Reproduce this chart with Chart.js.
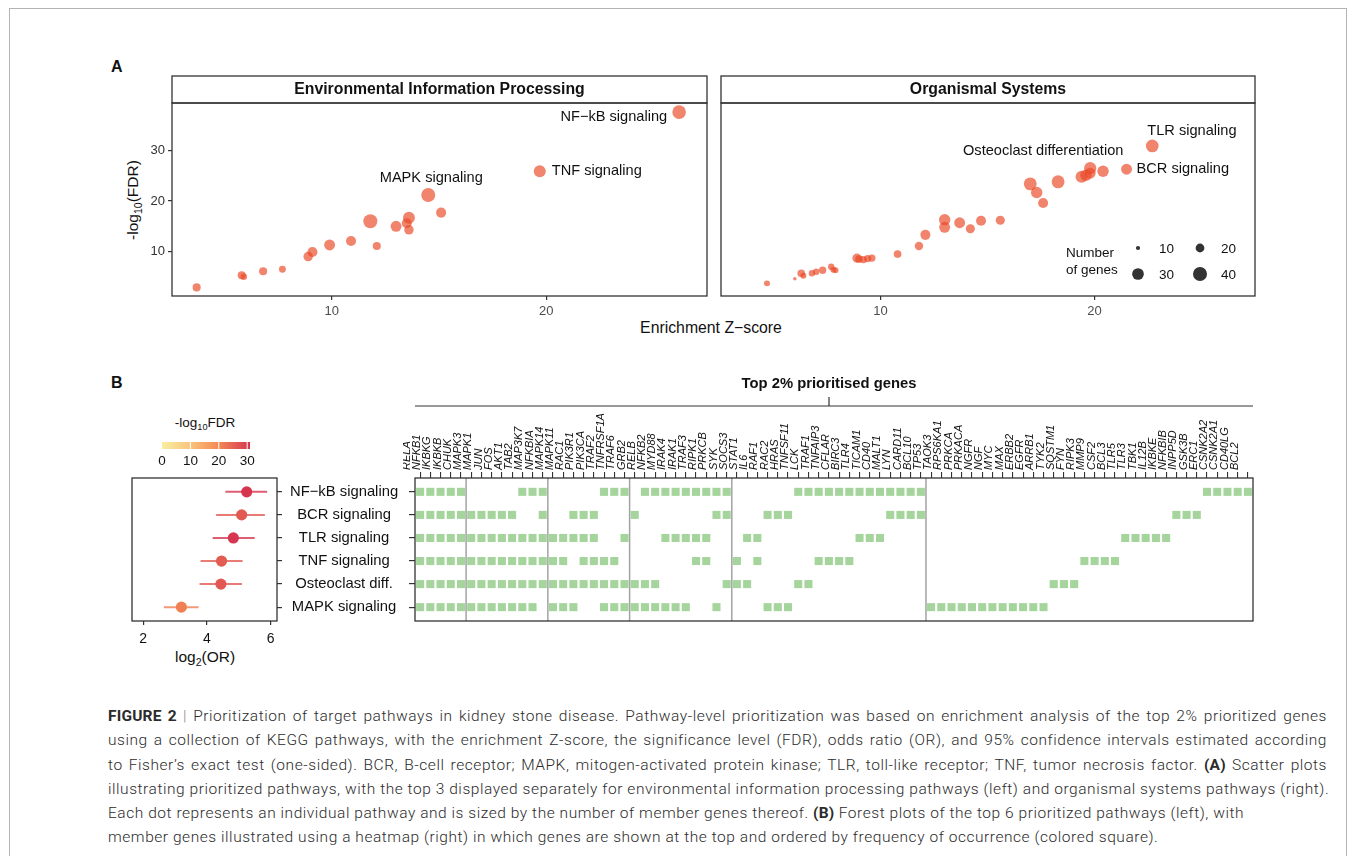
<!DOCTYPE html>
<html>
<head>
<meta charset="utf-8">
<title>Figure 2</title>
<script src="https://cdn.jsdelivr.net/npm/chart.js@4.4.1/dist/chart.umd.min.js"></script>
<style>
  html, body { margin: 0; padding: 0; background: #fff; }
  #page { position: relative; width: 1355px; height: 856px; overflow: hidden; font-family: "Liberation Sans", Arial, sans-serif; color: #111; }
  #frame { position: absolute; left: 9px; top: 8px; width: 1336px; height: 900px; border: 1px solid #b3b3b3; }
  canvas { position: absolute; }
  .lbl { position: absolute; white-space: nowrap; line-height: 1; }
  .tag { font-weight: bold; font-size: 16px; }
  .mid { transform: translate(-50%, -50%); }
  sub { font-size: 68%; vertical-align: -0.35em; line-height: 0; }
  #caption { position: absolute; left: 108px; top: 704px; width: 1219px; font-family: Roboto, "Liberation Sans", sans-serif; font-weight: 300; font-size: 15.5px; letter-spacing: 0.55px; line-height: 24.3px; color: #2b2b2b; }
  #caption div { white-space: nowrap; }
  #caption .just { text-align: justify; text-align-last: justify; }
  #caption b { font-weight: 700; letter-spacing: 0.2px; }
  #caption .sep { color: #888; }
</style>
</head>
<body>
<div id="page">
  <div id="frame"></div>
  <div class="lbl tag" style="left:111px; top:59px;">A</div>
  <div class="lbl tag" style="left:111px; top:375px;">B</div>
  <div class="lbl" style="left:133px; top:200px; font-size:15.5px; transform: translate(-50%,-50%) rotate(-90deg);">-log<sub>10</sub>(FDR)</div>
  <div class="lbl mid" style="left:711px; top:328px; font-size:15.8px;">Enrichment Z−score</div>
  <div class="lbl mid" style="left:205px; top:423px; font-size:13.5px;">-log<sub>10</sub>FDR</div>
  <div class="lbl mid" style="left:205px; top:657px; font-size:15.5px;">log<sub>2</sub>(OR)</div>

  <canvas id="envChart" width="614" height="262" style="left:100px; top:60px; width:614px; height:262px;"></canvas>
  <canvas id="orgChart" width="560" height="262" style="left:712px; top:60px; width:560px; height:262px;"></canvas>
  <canvas id="forestChart" width="315" height="270" style="left:100px; top:400px; width:315px; height:270px;"></canvas>
  <canvas id="heatChart" width="860" height="261" style="left:403px; top:370px; width:860px; height:261px;"></canvas>

  <div id="caption">
    <div class="just"><b>FIGURE 2</b> <span class="sep">|</span> Prioritization of target pathways in kidney stone disease. Pathway-level prioritization was based on enrichment analysis of the top 2% prioritized genes</div>
    <div class="just">using a collection of KEGG pathways, with the enrichment Z-score, the significance level (FDR), odds ratio (OR), and 95% confidence intervals estimated according</div>
    <div class="just">to Fisher’s exact test (one-sided). BCR, B-cell receptor; MAPK, mitogen-activated protein kinase; TLR, toll-like receptor; TNF, tumor necrosis factor. <b>(A)</b> Scatter plots</div>
    <div class="just">illustrating prioritized pathways, with the top 3 displayed separately for environmental information processing pathways (left) and organismal systems pathways (right).</div>
    <div>Each dot represents an individual pathway and is sized by the number of member genes thereof. <b>(B)</b> Forest plots of the top 6 prioritized pathways (left), with</div>
    <div>member genes illustrated using a heatmap (right) in which genes are shown at the top and ordered by frequency of occurrence (colored square).</div>
  </div>
</div>

<script>
// ---------- Panel A: environmental information processing ----------
const envZ = [3.7, 5.8, 5.9, 6.8, 7.7, 8.9, 9.1, 9.9, 10.9, 12.1, 11.8, 13.0, 13.5, 13.6, 13.6, 14.5, 15.1, 19.7, 26.2];
const envFdr = [2.9, 5.3, 5.0, 6.1, 6.5, 9.0, 9.9, 11.3, 12.1, 11.1, 16.0, 15.0, 15.6, 16.7, 14.3, 21.2, 17.7, 25.9, 37.6];
const envGenes = [18, 18, 14, 18, 15, 22, 24, 27, 24, 18, 40, 27, 24, 31, 22, 40, 24, 31, 38];
const envLabelIdx = [15, 17, 18];
const envLabelText = ['MAPK signaling', 'TNF signaling', 'NF−kB signaling'];

// ---------- Panel A: organismal systems ----------
const orgZ = [4.7, 6.0, 6.3, 6.4, 6.8, 7.0, 7.3, 7.7, 7.8, 7.9, 8.9, 9.0, 9.2, 9.4, 9.6, 10.8, 11.8, 12.1, 13.0, 13.0,
              13.7, 14.2, 14.7, 15.6, 17.0, 17.3, 17.6, 18.3, 19.4, 19.6, 19.8, 19.8, 20.4, 21.5, 22.7];
const orgFdr = [3.7, 4.6, 5.7, 5.2, 5.7, 6.0, 6.3, 7.0, 6.4, 6.3, 8.7, 8.5, 8.4, 8.6, 8.7, 9.5, 11.1, 13.3, 16.3, 14.8,
                15.7, 14.5, 16.1, 16.2, 23.4, 21.7, 19.6, 23.8, 24.8, 25.1, 26.5, 25.5, 25.9, 26.3, 30.9];
const orgGenes = [13, 9, 17, 13, 14, 14, 16, 14, 13, 13, 21, 17, 16, 16, 16, 17, 19, 24, 29, 27,
                  27, 21, 24, 21, 35, 29, 24, 35, 32, 29, 32, 27, 29, 27, 34];
const orgLabelIdx = [30, 33, 34];
const orgLabelText = ['Osteoclast differentiation', 'BCR signaling', 'TLR signaling'];

const zTicks = [10, 20];
const fdrTicks = [10, 20, 30];
const sizeLegendValues = [10, 20, 30, 40];

// ---------- Panel B: forest plot ----------
const forestPathways = ['NF−kB signaling', 'BCR signaling', 'TLR signaling', 'TNF signaling', 'Osteoclast diff.', 'MAPK signaling'];
const forestLog2OR = [5.25, 5.09, 4.83, 4.46, 4.44, 3.20];
const forestLow = [4.58, 4.29, 4.18, 3.80, 3.77, 2.65];
const forestHigh = [5.89, 5.82, 5.50, 5.12, 5.10, 3.74];
const forestFdr = [37.6, 26.3, 30.9, 25.9, 26.5, 21.2];
const orTicks = [2, 4, 6];
const colorbarTicks = [0, 10, 20, 30];

// ---------- Panel B: member genes heatmap ----------
const heatGenes = ['RELA', 'NFKB1', 'IKBKG', 'IKBKB', 'CHUK', 'MAPK3', 'MAPK1', 'JUN', 'FOS', 'AKT1', 'TAB2', 'MAP3K7',
  'NFKBIA', 'MAPK14', 'MAPK11', 'RAC1', 'PIK3R1', 'PIK3CA', 'TRAF2', 'TNFRSF1A', 'TRAF6', 'GRB2', 'RELB', 'NFKB2',
  'MYD88', 'IRAK4', 'IRAK1', 'TRAF3', 'RIPK1', 'PRKCB', 'SYK', 'SOCS3', 'STAT1', 'IL6', 'RAF1', 'RAC2', 'HRAS',
  'TNFSF11', 'LCK', 'TRAF1', 'TNFAIP3', 'CFLAR', 'BIRC3', 'TLR4', 'TICAM1', 'CD40', 'MALT1', 'LYN', 'CARD11', 'BCL10',
  'TP53', 'TAOK3', 'RPS6KA1', 'PRKCA', 'PRKACA', 'NGFR', 'NGF', 'MYC', 'MAX', 'ERBB2', 'EGFR', 'ARRB1', 'TYK2',
  'SQSTM1', 'FYN', 'RIPK3', 'MMP9', 'CSF2', 'BCL3', 'TLR5', 'TLR3', 'TBK1', 'IL12B', 'IKBKE', 'NFKBIB', 'INPP5D',
  'GSK3B', 'ERC1', 'CSNK2A2', 'CSNK2A1', 'CD40LG', 'BCL2'];
const heatBreaks = [5, 13, 21, 31, 50];

const nfkbMembers = ['RELA', 'NFKB1', 'IKBKG', 'IKBKB', 'CHUK', 'TAB2', 'MAP3K7', 'NFKBIA', 'TRAF2', 'TNFRSF1A', 'TRAF6',
  'RELB', 'NFKB2', 'MYD88', 'IRAK4', 'IRAK1', 'TRAF3', 'RIPK1', 'PRKCB', 'SYK', 'TNFSF11', 'LCK', 'TRAF1', 'TNFAIP3',
  'CFLAR', 'BIRC3', 'TLR4', 'TICAM1', 'CD40', 'MALT1', 'LYN', 'CARD11', 'BCL10', 'ERC1', 'CSNK2A2', 'CSNK2A1', 'CD40LG', 'BCL2'];
const bcrMembers = ['RELA', 'NFKB1', 'IKBKG', 'IKBKB', 'CHUK', 'MAPK3', 'MAPK1', 'JUN', 'FOS', 'AKT1', 'NFKBIA', 'RAC1',
  'PIK3R1', 'PIK3CA', 'GRB2', 'PRKCB', 'SYK', 'RAF1', 'RAC2', 'HRAS', 'MALT1', 'LYN', 'CARD11', 'BCL10', 'NFKBIB', 'INPP5D', 'GSK3B'];
const tlrMembers = ['RELA', 'NFKB1', 'IKBKG', 'IKBKB', 'CHUK', 'MAPK3', 'MAPK1', 'JUN', 'FOS', 'AKT1', 'TAB2', 'MAP3K7',
  'NFKBIA', 'MAPK14', 'MAPK11', 'RAC1', 'PIK3R1', 'PIK3CA', 'TRAF6', 'MYD88', 'IRAK4', 'IRAK1', 'TRAF3', 'RIPK1', 'STAT1',
  'IL6', 'TLR4', 'TICAM1', 'CD40', 'TLR5', 'TLR3', 'TBK1', 'IL12B', 'IKBKE'];
const tnfMembers = ['RELA', 'NFKB1', 'IKBKG', 'IKBKB', 'CHUK', 'MAPK3', 'MAPK1', 'JUN', 'FOS', 'AKT1', 'TAB2', 'MAP3K7',
  'NFKBIA', 'MAPK14', 'MAPK11', 'PIK3R1', 'PIK3CA', 'TRAF2', 'TNFRSF1A', 'TRAF3', 'RIPK1', 'SOCS3', 'IL6', 'TRAF1',
  'TNFAIP3', 'CFLAR', 'BIRC3', 'RIPK3', 'MMP9', 'CSF2', 'BCL3'];
const osteoMembers = ['RELA', 'NFKB1', 'IKBKG', 'IKBKB', 'CHUK', 'MAPK3', 'MAPK1', 'JUN', 'FOS', 'AKT1', 'TAB2', 'MAP3K7',
  'NFKBIA', 'MAPK14', 'MAPK11', 'RAC1', 'PIK3R1', 'PIK3CA', 'TRAF2', 'TNFRSF1A', 'TRAF6', 'GRB2', 'RELB', 'NFKB2', 'SYK',
  'SOCS3', 'STAT1', 'TNFSF11', 'LCK', 'TYK2', 'SQSTM1', 'FYN'];
const mapkMembers = ['RELA', 'NFKB1', 'IKBKG', 'IKBKB', 'CHUK', 'MAPK3', 'MAPK1', 'JUN', 'FOS', 'AKT1', 'TAB2', 'MAP3K7',
  'MAPK14', 'MAPK11', 'RAC1', 'TRAF2', 'TNFRSF1A', 'TRAF6', 'GRB2', 'RELB', 'NFKB2', 'MYD88', 'IRAK4', 'IRAK1', 'PRKCB',
  'RAF1', 'RAC2', 'HRAS', 'TP53', 'TAOK3', 'RPS6KA1', 'PRKCA', 'PRKACA', 'NGFR', 'NGF', 'MYC', 'MAX', 'ERBB2', 'EGFR', 'ARRB1'];
const heatRows = [nfkbMembers, bcrMembers, tlrMembers, tnfMembers, osteoMembers, mapkMembers];

// ---------- styling ----------
const FONT = '"Liberation Sans", Arial, sans-serif';
const INK = '#333333';
const dotColor = 'rgba(234, 74, 38, 0.68)';
const tileColor = '#a5d59c';
const colorbarMax = 31;
const colorbarColors = ['#f9eea0', '#f8c47b', '#f38955', '#d6354f'];

Chart.defaults.font.family = FONT;
Chart.defaults.color = INK;
Chart.defaults.animation = false;
Chart.defaults.plugins.legend.display = false;
Chart.defaults.plugins.tooltip.enabled = false;

// dot radius from number of genes (area-like scale)
function dotRadius(n) {
  return 7 * Math.sqrt(Math.max(n - 7, 0.6) / 33);
}

function hexToRgb(h) {
  return [parseInt(h.slice(1, 3), 16), parseInt(h.slice(3, 5), 16), parseInt(h.slice(5, 7), 16)];
}

function fdrColor(v, alpha) {
  const t = Math.min(Math.max(v, 0), colorbarMax);
  const stops = colorbarTicks.map((s, i) => i === colorbarTicks.length - 1 ? colorbarMax : s);
  let k = 0;
  while (k < stops.length - 2 && t > stops[k + 1]) k++;
  const f = (t - stops[k]) / (stops[k + 1] - stops[k]);
  const a = hexToRgb(colorbarColors[k]);
  const b = hexToRgb(colorbarColors[k + 1]);
  const c = a.map((x, i) => Math.round(x + (b[i] - x) * f));
  return `rgba(${c[0]}, ${c[1]}, ${c[2]}, ${alpha === undefined ? 1 : alpha})`;
}

function fixedTicks(values) {
  return scale => { scale.ticks = values.map(v => ({ value: v })); };
}

// where each scatter label sits relative to its dot (pixels)
const labelPlacement = {
  'NF−kB signaling': { align: 'right', dx: -12, dy: 5 },
  'TNF signaling': { align: 'left', dx: 12, dy: 0 },
  'MAPK signaling': { align: 'center', dx: 3, dy: -17 },
  'TLR signaling': { align: 'left', dx: -5, dy: -15 },
  'Osteoclast differentiation': { align: 'center', dx: -47, dy: -17 },
  'BCR signaling': { align: 'left', dx: 10, dy: 0 }
};

const panelFrame = {
  id: 'panelFrame',
  afterDraw(chart, args, opts) {
    const { ctx, chartArea } = chart;
    const { left, top, right, bottom } = chartArea;
    ctx.save();
    ctx.strokeStyle = INK;
    ctx.lineWidth = 1.3;
    ctx.strokeRect(left, top - 27, right - left, 27);
    ctx.strokeRect(left, top, right - left, bottom - top);
    ctx.fillStyle = '#111';
    ctx.font = `bold 15.8px ${FONT}`;
    ctx.textAlign = 'center';
    ctx.textBaseline = 'middle';
    ctx.fillText(opts.title, (left + right) / 2, top - 13);

    // pathway labels
    const meta = chart.getDatasetMeta(0);
    ctx.font = `14.6px ${FONT}`;
    opts.labelIdx.forEach((idx, i) => {
      const text = opts.labelText[i];
      const place = labelPlacement[text];
      const el = meta.data[idx];
      ctx.textAlign = place.align;
      ctx.fillText(text, el.x + place.dx, el.y + place.dy);
    });

    // size legend
    if (opts.sizeLegend) {
      ctx.textAlign = 'left';
      ctx.font = `13.5px ${FONT}`;
      ctx.fillText('Number', right - 189, bottom - 43);
      ctx.fillText('of genes', right - 189, bottom - 26);
      const cols = [right - 117, right - 55];
      const rows = [bottom - 48, bottom - 22];
      opts.sizeLegend.forEach((n, i) => {
        const cx = cols[i % 2];
        const cy = rows[Math.floor(i / 2)];
        ctx.fillStyle = '#333';
        ctx.beginPath();
        ctx.arc(cx, cy, dotRadius(n), 0, Math.PI * 2);
        ctx.fill();
        ctx.fillStyle = '#111';
        ctx.fillText(String(n), cx + 21, cy + 1);
      });
    }
    ctx.restore();
  }
};

function scatterConfig(zs, fdrs, genes, showY, padLeft, padRight, opts) {
  return {
    type: 'scatter',
    data: {
      datasets: [{
        data: zs.map((z, i) => ({ x: z, y: fdrs[i] })),
        backgroundColor: dotColor,
        borderWidth: 0,
        pointRadius: genes.map(dotRadius)
      }]
    },
    options: {
      responsive: false,
      devicePixelRatio: 1,
      layout: { padding: { top: 43, left: padLeft, right: padRight, bottom: 0 } },
      scales: {
        x: {
          type: 'linear', min: 2.55, max: 27.5,
          afterBuildTicks: fixedTicks(zTicks),
          afterFit: s => { s.height = 26; },
          border: { display: false },
          grid: { drawOnChartArea: false, tickLength: 4, color: INK, lineWidth: 1.2 },
          ticks: { color: '#4d4d4d', font: { size: 13 }, padding: 4, maxRotation: 0 }
        },
        y: {
          type: 'linear', display: showY, min: 1.2, max: 39.4,
          afterBuildTicks: fixedTicks(fdrTicks),
          afterFit: s => { s.width = showY ? 72 : 0; },
          border: { display: false },
          grid: { drawOnChartArea: false, tickLength: 4, color: INK, lineWidth: 1.2 },
          ticks: { color: '#333', font: { size: 13 }, padding: 3 }
        }
      },
      plugins: { panelFrame: opts }
    },
    plugins: [panelFrame]
  };
}

new Chart(document.getElementById('envChart'), scatterConfig(envZ, envFdr, envGenes, true, 0, 5, {
  title: 'Environmental Information Processing', labelIdx: envLabelIdx, labelText: envLabelText
}));

new Chart(document.getElementById('orgChart'), scatterConfig(orgZ, orgFdr, orgGenes, false, 9, 17, {
  title: 'Organismal Systems', labelIdx: orgLabelIdx, labelText: orgLabelText, sizeLegend: sizeLegendValues
}));

// ---------- forest plot ----------
const forestFrame = {
  id: 'forestFrame',
  afterDraw(chart) {
    const { ctx, chartArea: a } = chart;
    ctx.save();
    ctx.strokeStyle = INK;
    ctx.lineWidth = 1.3;
    ctx.strokeRect(a.left, a.top, a.right - a.left, a.bottom - a.top);

    // colour bar legend for -log10 FDR
    const x0 = a.left + 30, w = 88, y0 = a.top - 36, h = 7;
    const grad = ctx.createLinearGradient(x0, 0, x0 + w, 0);
    colorbarColors.forEach((c, i) => {
      const v = i === colorbarColors.length - 1 ? colorbarMax : colorbarTicks[i];
      grad.addColorStop(v / colorbarMax, c);
    });
    ctx.fillStyle = grad;
    ctx.fillRect(x0, y0, w, h);
    ctx.strokeStyle = '#fff';
    ctx.lineWidth = 1;
    ctx.fillStyle = '#111';
    ctx.font = `13.5px ${FONT}`;
    ctx.textAlign = 'center';
    ctx.textBaseline = 'middle';
    colorbarTicks.forEach(v => {
      const px = x0 + v / colorbarMax * w;
      if (v > 0) {
        ctx.beginPath();
        ctx.moveTo(px, y0);
        ctx.lineTo(px, y0 + h);
        ctx.stroke();
      }
      ctx.fillText(String(v), px, y0 + 19);
    });
    ctx.restore();
  }
};

const ciSets = forestPathways.map((p, i) => ({
  data: [{ x: forestLow[i], y: i }, { x: forestHigh[i], y: i }],
  showLine: true,
  borderColor: fdrColor(forestFdr[i], 0.8),
  borderWidth: 2,
  pointRadius: 0
}));

new Chart(document.getElementById('forestChart'), {
  type: 'scatter',
  data: {
    datasets: ciSets.concat([{
      data: forestPathways.map((p, i) => ({ x: forestLog2OR[i], y: i })),
      backgroundColor: forestFdr.map(v => fdrColor(v)),
      borderWidth: 0,
      pointRadius: 5.6
    }])
  },
  options: {
    responsive: false,
    devicePixelRatio: 1,
    layout: { padding: { top: 78, left: 32, right: 0, bottom: 0 } },
    scales: {
      x: {
        type: 'linear', min: 1.65, max: 6.2,
        afterBuildTicks: fixedTicks(orTicks),
        afterFit: s => { s.height = 49; },
        border: { display: false },
        grid: { drawOnChartArea: false, tickLength: 4, color: INK, lineWidth: 1.2 },
        ticks: { color: '#111', font: { size: 14 }, padding: 6, maxRotation: 0 }
      },
      y: {
        type: 'linear', position: 'right', reverse: true, min: -0.6, max: 5.6,
        afterBuildTicks: fixedTicks(forestPathways.map((p, i) => i)),
        afterFit: s => { s.width = 138; },
        border: { display: false },
        grid: { drawOnChartArea: false, tickLength: 5, color: INK, lineWidth: 1.2 },
        ticks: { color: '#111', font: { size: 14.8 }, padding: 8, crossAlign: 'center',
                 callback: v => forestPathways[v] }
      }
    }
  },
  plugins: [forestFrame]
});

// ---------- heatmap of member genes ----------
const heatPoints = [];
heatRows.forEach((members, row) => {
  members.forEach(g => heatPoints.push({ x: heatGenes.indexOf(g), y: row }));
});

const heatFrame = {
  id: 'heatFrame',
  afterDraw(chart) {
    const { ctx, chartArea: a, scales } = chart;
    ctx.save();
    // group separators
    ctx.strokeStyle = '#a3a3a3';
    ctx.lineWidth = 1.5;
    heatBreaks.forEach(b => {
      const px = scales.x.getPixelForValue(b - 0.5);
      ctx.beginPath();
      ctx.moveTo(px, a.top);
      ctx.lineTo(px, a.bottom);
      ctx.stroke();
    });
    ctx.strokeStyle = INK;
    ctx.lineWidth = 1.3;
    ctx.strokeRect(a.left, a.top, a.right - a.left, a.bottom - a.top);

    // title with bracket
    const mid = (a.left + a.right) / 2;
    ctx.lineWidth = 1.2;
    ctx.beginPath();
    ctx.moveTo(a.left, a.top - 72);
    ctx.lineTo(a.right, a.top - 72);
    ctx.moveTo(mid - 5, a.top - 72);
    ctx.lineTo(mid - 5, a.top - 81);
    ctx.stroke();
    ctx.fillStyle = '#111';
    ctx.font = `bold 14.8px ${FONT}`;
    ctx.textAlign = 'center';
    ctx.textBaseline = 'middle';
    ctx.fillText('Top 2% prioritised genes', mid - 5, a.top - 94);
    ctx.restore();
  }
};

new Chart(document.getElementById('heatChart'), {
  type: 'scatter',
  data: {
    datasets: [{
      data: heatPoints,
      pointStyle: 'rect',
      pointRadius: 5.7,
      backgroundColor: tileColor,
      borderWidth: 0
    }]
  },
  options: {
    responsive: false,
    devicePixelRatio: 1,
    layout: { padding: { top: 0, left: 0, right: 10, bottom: 10 } },
    scales: {
      x: {
        type: 'linear', position: 'top', min: -0.5, max: heatGenes.length - 0.5,
        afterBuildTicks: fixedTicks(heatGenes.map((g, i) => i)),
        afterFit: s => { s.height = 108; },
        border: { display: false },
        grid: { drawOnChartArea: false, tickLength: 6, color: INK, lineWidth: 1.1 },
        ticks: { color: '#111', font: { size: 11, style: 'italic' }, padding: 2, autoSkip: false,
                 minRotation: 90, maxRotation: 90, callback: v => heatGenes[v] }
      },
      y: {
        type: 'linear', reverse: true, min: -0.6, max: 5.6,
        afterBuildTicks: fixedTicks(heatRows.map((r, i) => i)),
        afterFit: s => { s.width = 12; },
        border: { display: false },
        grid: { drawOnChartArea: false, tickLength: 6, color: INK, lineWidth: 1.2 },
        ticks: { display: false }
      }
    }
  },
  plugins: [heatFrame]
});
</script>
</body>
</html>
